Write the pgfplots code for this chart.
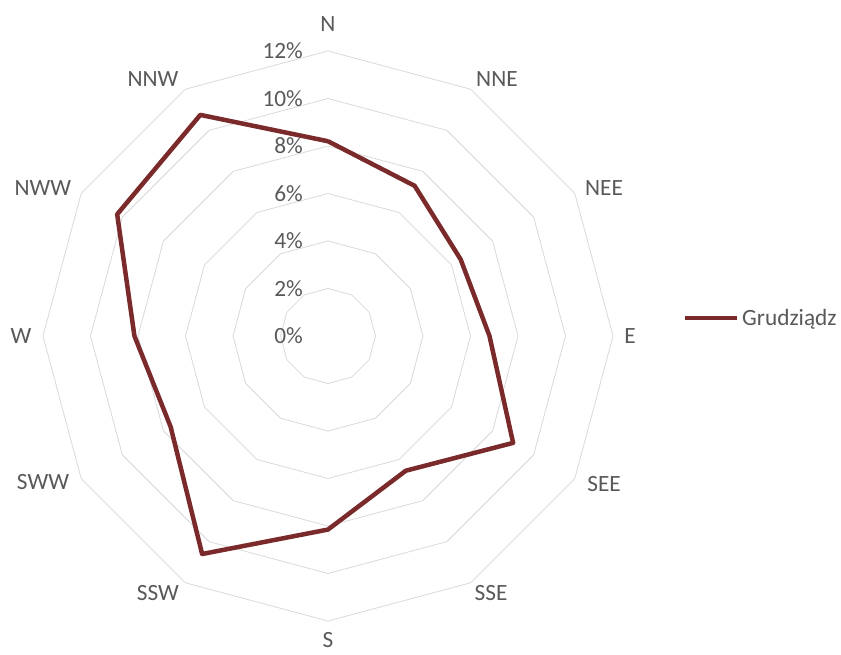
\documentclass[border=0pt]{standalone}
\usepackage{pgfplots}
\pgfplotsset{compat=1.18}
\usepgfplotslibrary{polar}
\usepackage{fontspec}
\setmainfont{Carlito}

\definecolor{txt}{HTML}{595959}
\definecolor{gridc}{HTML}{D9D9D9}
\definecolor{series}{HTML}{7A2A2A}

\tikzset{lbl/.style={text=txt, font=\fontsize{23.4}{28}\selectfont, inner sep=1bp}}

\begin{document}
\begin{tikzpicture}
\path[use as bounding box] (0,0) rectangle (841bp,655bp);
\begin{polaraxis}[
    at={(328bp,319bp)}, anchor=center,
    scale only axis,
    width=570bp, height=570bp,
    xmin=0, xmax=360,
    ymin=0, ymax=12,
    hide axis,
    clip=false,
    legend style={
        at={(1.1228,0.5316)}, anchor=west,
        draw=none, fill=none, inner sep=0pt,
        font=\fontsize{23.4}{28}\selectfont, text=txt,
        nodes={inner sep=2.5bp},
    },
    legend cell align=left,
    legend image code/.code={\draw[#1] (0bp,0bp) -- (52bp,0bp);},
]

% grid rings, every 2 %
\pgfplotsinvokeforeach{2,4,6,8,10,12}{
    \addplot[gridc, line width=0.8bp, forget plot]
    coordinates {(0,#1)(30,#1)(60,#1)(90,#1)(120,#1)(150,#1)(180,#1)(210,#1)(240,#1)(270,#1)(300,#1)(330,#1)(360,#1)};
}

% N, NNE, NEE, E, SEE, SSE, S, SSW, SWW, W, NWW, NNW, back to N
\addplot[series, line width=4.5bp, line join=round]
coordinates {
    (90,8.2)(60,7.3)(30,6.45)(0,6.8)(330,9.0)(300,6.55)
    (270,8.15)(240,10.6)(210,7.65)(180,8.15)(150,10.25)(120,10.75)(90,8.2)
};
\addlegendentry{Grudziądz}

% tick labels
\pgfplotsinvokeforeach{0,2,4,6,8,10,12}{
    \node[lbl, anchor=east, inner sep=0pt] at ([xshift=-25bp]axis cs:90,#1) {#1\%};
}

% direction labels
\node[lbl] at (axis cs:90,13.12)    {N};
\node[lbl] at (axis cs:56.67,12.95) {NNE};
\node[lbl] at (axis cs:28.2,13.19)  {NEE};
\node[lbl] at (axis cs:0,12.72)     {E};
\node[lbl] at (axis cs:331.8,13.19) {SEE};
\node[lbl] at (axis cs:302.4,12.81) {SSE};
\node[lbl] at (axis cs:270,12.78)   {S};
\node[lbl] at (axis cs:236.5,12.97) {SSW};
\node[lbl] at (axis cs:207.1,13.48) {SWW};
\node[lbl] at (axis cs:180,12.93)   {W};
\node[lbl] at (axis cs:152.6,13.52) {NWW};
\node[lbl] at (axis cs:124.25,13.09) {NNW};

\end{polaraxis}
\end{tikzpicture}
\end{document}
